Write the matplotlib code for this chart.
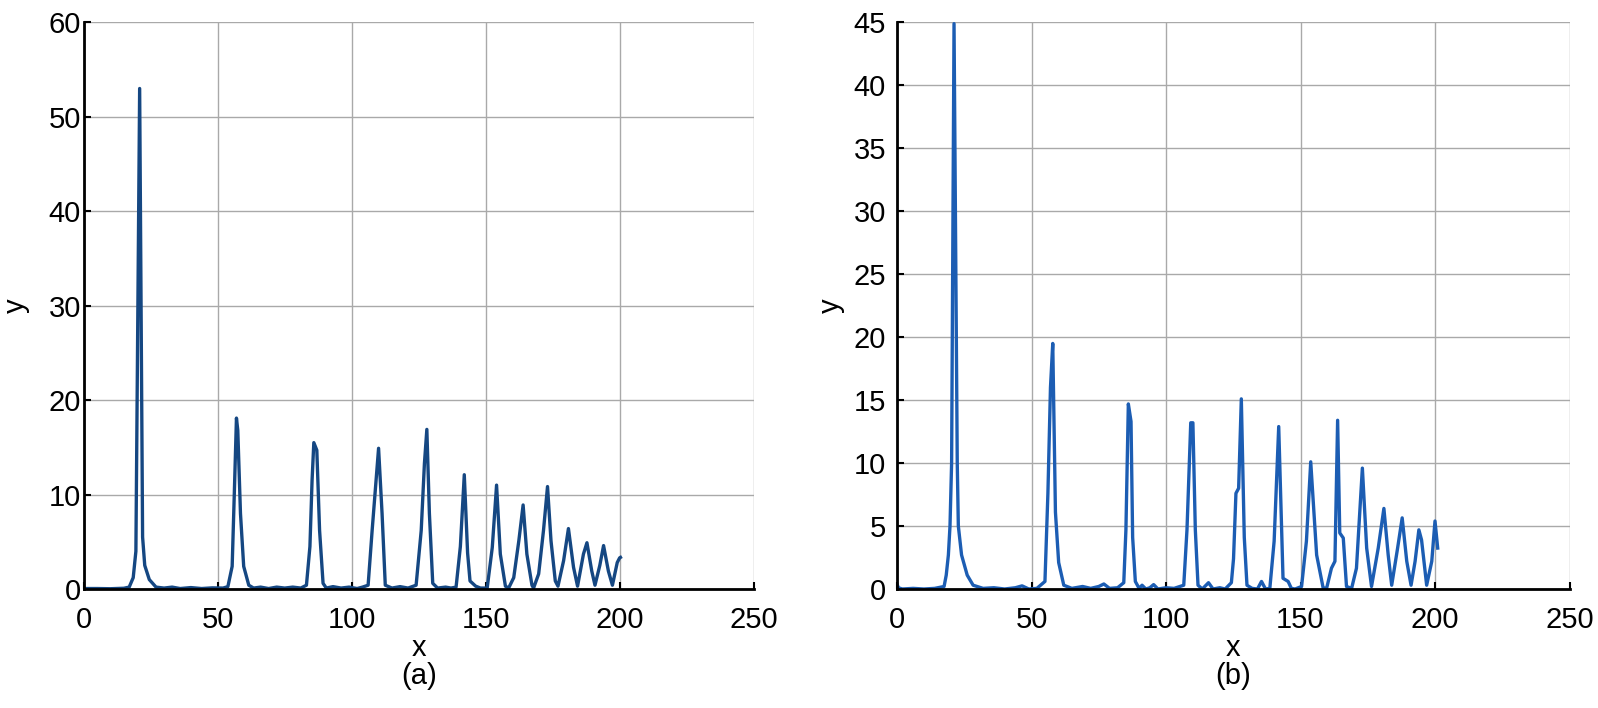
import matplotlib
matplotlib.use("Agg")
import matplotlib.pyplot as plt

plt.rcParams['font.family'] = ['Liberation Sans', 'DejaVu Sans']

# ---------------- data ----------------
xa = [0, 5, 10, 15, 17, 18.5, 19.5, 20.9, 22.0, 22.8, 24.5, 27, 30, 33, 36, 40, 44, 48, 52,
      53.8, 55.4, 56.2, 57.0, 57.5, 58.5, 59.7, 61.6, 63.4, 66, 69, 72, 75, 78, 81,
      83.1, 84.4, 85.2, 85.85, 86.97, 88.0, 89.3, 90.5, 93, 96, 99, 102, 104,
      106.1, 107.6, 110.0, 111.3, 112.5, 115, 118, 121,
      124.0, 125.9, 127.1, 128.0, 128.95, 130.2, 132, 135, 137,
      138.9, 140.5, 141.96, 143.2, 144.1, 146.2, 148,
      150.5, 152.4, 154.0, 155.4, 157.3, 158.5,
      160.4, 162.3, 163.9, 165.3, 167.2, 167.8,
      169.7, 171.5, 173.0, 174.3, 175.9, 176.9,
      179.0, 180.8, 182.7, 184.2, 186.4, 187.7, 189.5, 190.7,
      192.5, 193.9, 195.7, 197.2, 199.0, 199.9, 200.2]
ya = [0.05, 0.05, 0.03, 0.08, 0.2, 1.2, 4.0, 53.0, 5.5, 2.5, 1.0, 0.2, 0.1, 0.2, 0.05, 0.15, 0.05, 0.12, 0.1,
      0.25, 2.4, 10.1, 18.1, 16.8, 8.0, 2.4, 0.4, 0.1, 0.2, 0.05, 0.2, 0.1, 0.2, 0.1,
      0.4, 4.5, 11.5, 15.5, 14.7, 6.2, 0.6, 0.1, 0.25, 0.1, 0.2, 0.05, 0.2,
      0.4, 6.2, 14.9, 8.0, 0.4, 0.1, 0.25, 0.1,
      0.4, 6.2, 13.3, 16.9, 8.0, 0.6, 0.1, 0.2, 0.1,
      0.2, 4.5, 12.1, 3.8, 0.85, 0.3, 0.1,
      0.1, 4.4, 11.0, 3.7, 0.3, 0.1,
      1.2, 5.1, 8.9, 3.7, 0.4, 0.1,
      1.6, 6.2, 10.85, 5.1, 0.85, 0.3,
      3.0, 6.4, 2.3, 0.3, 3.7, 4.9, 1.9, 0.4,
      2.5, 4.6, 1.9, 0.4, 2.8, 3.3, 3.35]

xb = [0, 0.5, 2, 6, 10, 14, 17.5, 18.3, 19.1, 19.7, 20.3, 21.2, 22.4, 22.8, 24.0, 26.1, 28.3,
      32, 36, 40, 44, 46.5, 49, 52,
      55.0, 56.1, 57.05, 57.9, 58.9, 60.1, 62.0, 65, 69, 72, 75, 76.9, 79, 82,
      84.3, 85.1, 86.0, 87.0, 87.6, 88.6, 90, 91.1, 92.5, 94, 95.4, 97, 100, 103,
      106.6, 107.8, 109.2, 110.0, 110.9, 111.9, 113.5, 115.8, 117.5, 120, 122,
      124.3, 125.1, 126.0, 127.0, 128.0, 129.1, 130.1, 132, 134, 135.5, 137,
      138.6, 140.2, 141.9, 143.5, 145.4, 146.6, 148,
      150.4, 152.2, 153.8, 156.0, 158.4, 159.7,
      161.5, 162.8, 163.8, 164.6, 165.9, 167.1, 169,
      170.8, 173.0, 174.6, 176.4, 178.9, 181.0, 182.6, 183.9,
      186.1, 187.8, 189.5, 191.1, 192.6, 194.0, 195.0, 196.9,
      198.8, 200.0, 201.0]
yb = [0.4, 0.1, 0.0, 0.05, 0.0, 0.05, 0.2, 1.1, 2.7, 5.0, 10.0, 44.9, 10.0, 5.0, 2.7, 1.1, 0.3,
      0.05, 0.1, 0.0, 0.1, 0.25, 0.0, 0.05,
      0.6, 7.6, 16.0, 19.5, 6.1, 2.1, 0.3, 0.05, 0.2, 0.05, 0.2, 0.4, 0.05, 0.1,
      0.5, 4.7, 14.7, 13.3, 4.1, 0.6, 0.05, 0.3, 0.0, 0.1, 0.35, 0.0, 0.1, 0.05,
      0.3, 4.7, 13.2, 13.2, 4.7, 0.3, 0.0, 0.5, 0.0, 0.1, 0.0,
      0.5, 2.4, 7.6, 8.0, 15.1, 4.1, 0.3, 0.05, 0.0, 0.6, 0.0,
      0.05, 3.8, 12.9, 0.85, 0.6, 0.05, 0.0,
      0.2, 3.8, 10.1, 2.7, 0.1, 0.05,
      1.65, 2.2, 13.4, 4.45, 4.05, 0.2, 0.05,
      1.65, 9.6, 3.25, 0.2, 3.25, 6.4, 2.7, 0.3,
      3.25, 5.65, 2.2, 0.3, 2.2, 4.7, 3.9, 0.3,
      2.2, 5.4, 3.25]

xticks = [0, 50, 100, 150, 200, 250]
yticks_a = [0, 10, 20, 30, 40, 50, 60]
yticks_b = [0, 5, 10, 15, 20, 25, 30, 35, 40, 45]
panel_labels = ['(a)', '(b)']

# ---------------- figure ----------------
fig = plt.figure(figsize=(15.98, 7.08), dpi=100)
ax1 = fig.add_axes([83.6 / 1598, (708 - 589) / 708, (754 - 83.6) / 1598, (589 - 22.4) / 708])
ax2 = fig.add_axes([897 / 1598, (708 - 589) / 708, (1569.5 - 897) / 1598, (589 - 22.4) / 708])

specs = [
    (ax1, xa, ya, yticks_a, '#154782', 2, -0.080),
    (ax2, xb, yb, yticks_b, '#1c5db3', 8, -0.077),
]
for ax, xs, ys, yt, col, ypad, ylx in specs:
    ax.plot(xs, ys, color=col, lw=2.4, zorder=3, solid_joinstyle='round')
    ax.set_xlim(0, 250)
    ax.set_ylim(0, yt[-1])
    ax.set_xticks(xticks)
    ax.set_yticks(yt)
    ax.grid(True, color='#a9a9a9', lw=1.0, zorder=0)
    ax.set_axisbelow(True)
    for s in ('top', 'right'):
        ax.spines[s].set_visible(False)
    for s in ('left', 'bottom'):
        ax.spines[s].set_linewidth(2.0)
        ax.spines[s].set_color('black')
        ax.spines[s].set_zorder(4)
    ax.tick_params(axis='both', direction='in', length=5, width=1.5,
                   labelsize=21, colors='black', top=False, right=False)
    ax.tick_params(axis='x', pad=12)
    ax.tick_params(axis='y', pad=ypad)
    ax.set_xlabel('x', fontsize=21)
    ax.xaxis.set_label_coords(0.5, -0.08)
    ax.set_ylabel('y', fontsize=21)
    ax.yaxis.set_label_coords(ylx, 0.5)

fig.text((83.6 + 754) / 2 / 1598, (708 - 676) / 708, panel_labels[0], ha='center', va='center', fontsize=21)
fig.text((897 + 1569.5) / 2 / 1598, (708 - 676) / 708, panel_labels[1], ha='center', va='center', fontsize=21)

fig.savefig('out.png', dpi=100, facecolor='white')
